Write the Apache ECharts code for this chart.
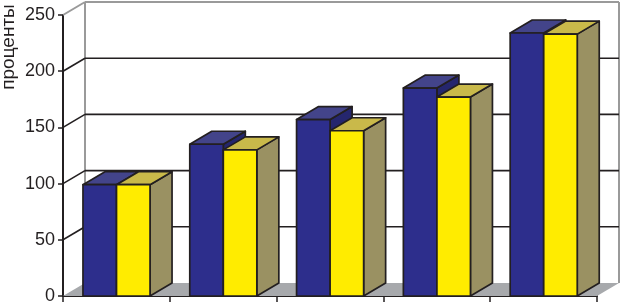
<!DOCTYPE html>
<html>
<head>
<meta charset="utf-8">
<script src="https://cdn.jsdelivr.net/npm/echarts@6/dist/echarts.min.js"></script>
<style>html,body{margin:0;padding:0;background:#fff;}#c{width:620px;height:305px;}</style>
</head>
<body>
<div id="c"></div>
<script>
const categories = ['1', '2', '3', '4', '5'];
const seriesBlue = [99, 135, 157, 185, 234];
const seriesYellow = [99, 130, 147, 177, 233];
const yTicks = [0, 50, 100, 150, 200, 250];
const yAxisTitle = 'проценты';

const DX = 22, DY = -13;
const INK = '#231f20';
const WALL = '#9a9a9a';
const FLOOR = '#a7a9ac';
const BLUE = { front: '#2d2e8c', top: '#43448a', side: '#25266e' };
const YEL = { front: '#ffec00', top: '#c9b94a', side: '#9a9162' };

const chart = echarts.init(document.getElementById('c'), null, { renderer: 'canvas' });

function frame(api) {
  const cw = api.size([1, 0])[0];
  const left = api.coord([0, 0])[0] - cw / 2;
  return { cw: cw, left: left, right: left + cw * categories.length };
}

function wallItem(params, api) {
  const v = api.value(1);
  const f = frame(api);
  const y = api.coord([0, v])[1];
  const children = [];
  const isTop = v === yTicks[yTicks.length - 1];
  if (v === 0) {
    children.push({
      type: 'polygon',
      shape: { points: [[f.left, y], [f.right, y], [f.right + DX, y + DY], [f.left + DX, y + DY]] },
      style: { fill: FLOOR, stroke: null }
    });
    const yTop = api.coord([0, yTicks[yTicks.length - 1]])[1];
    children.push({ type: 'line', shape: { x1: f.left + DX, y1: y + DY, x2: f.left + DX, y2: yTop + DY }, style: { stroke: WALL, lineWidth: 2 } });
    children.push({ type: 'line', shape: { x1: f.right + DX, y1: y + DY, x2: f.right + DX, y2: yTop + DY }, style: { stroke: WALL, lineWidth: 2 } });
  } else {
    children.push({ type: 'line', shape: { x1: f.left + DX, y1: y + DY, x2: f.right + DX, y2: y + DY }, style: { stroke: isTop ? WALL : INK, lineWidth: isTop ? 2 : 1.6 } });
    children.push({ type: 'line', shape: { x1: f.left, y1: y, x2: f.left + DX, y2: y + DY }, style: { stroke: isTop ? WALL : INK, lineWidth: isTop ? 2 : 1.6 } });
  }
  return { type: 'group', children: children };
}

function box(x0, w, yTop, yBase, col) {
  const s = { stroke: INK, lineWidth: 1.7, lineJoin: 'round' };
  return [
    { type: 'polygon', shape: { points: [[x0 + w, yTop], [x0 + w + DX, yTop + DY], [x0 + w + DX, yBase + DY], [x0 + w, yBase]] }, style: Object.assign({ fill: col.side }, s) },
    { type: 'polygon', shape: { points: [[x0, yTop], [x0 + w, yTop], [x0 + w + DX, yTop + DY], [x0 + DX, yTop + DY]] }, style: Object.assign({ fill: col.top }, s) },
    { type: 'rect', shape: { x: x0, y: yTop, width: w, height: yBase - yTop }, style: Object.assign({ fill: col.front }, s) }
  ];
}

function barItem(params, api) {
  const idx = api.value(0);
  const cw = api.size([1, 0])[0];
  const cx = api.coord([idx, 0])[0];
  const base = api.coord([idx, 0])[1];
  const left = cx - cw / 2;
  const w = cw * 0.314;
  const x0 = left + cw * 0.187;
  const yb = api.coord([idx, api.value(1)])[1];
  const yy = api.coord([idx, api.value(2)])[1];
  return { type: 'group', children: box(x0, w, yb, base, BLUE).concat(box(x0 + w, w, yy, base, YEL)) };
}

chart.setOption({
  animation: false,
  backgroundColor: '#fff',
  grid: { left: 63, top: 15, width: 534, height: 282 },
  xAxis: {
    type: 'category',
    data: categories,
    boundaryGap: true,
    axisLine: { show: true, lineStyle: { color: INK, width: 2 } },
    axisTick: { show: true, alignWithLabel: false, length: 6, lineStyle: { color: INK, width: 1.5 } },
    axisLabel: { show: false },
    splitLine: { show: false }
  },
  yAxis: {
    type: 'value',
    min: 0, max: 250, interval: 50,
    axisLine: { show: true, lineStyle: { color: INK, width: 2 } },
    axisTick: { show: true, length: 5, lineStyle: { color: INK, width: 1.5 } },
    axisLabel: { margin: 8, fontSize: 18, color: INK, fontFamily: 'Liberation Sans, Arial, sans-serif' },
    splitLine: { show: false }
  },
  graphic: [{
    type: 'text',
    x: 9, y: 47,
    rotation: Math.PI / 2,
    style: { text: yAxisTitle, fontSize: 19, fill: INK, fontFamily: 'Liberation Sans, Arial, sans-serif', textAlign: 'center', textVerticalAlign: 'middle' },
    z: 10
  }],
  series: [
    {
      type: 'custom',
      z: 1,
      clip: false,
      silent: true,
      data: yTicks.map(function (v) { return [0, v]; }),
      renderItem: wallItem
    },
    {
      type: 'custom',
      z: 3,
      clip: false,
      data: categories.map(function (c, i) { return [i, seriesBlue[i], seriesYellow[i]]; }),
      encode: { x: 0, y: [1, 2] },
      renderItem: barItem
    }
  ]
});
</script>
</body>
</html>
